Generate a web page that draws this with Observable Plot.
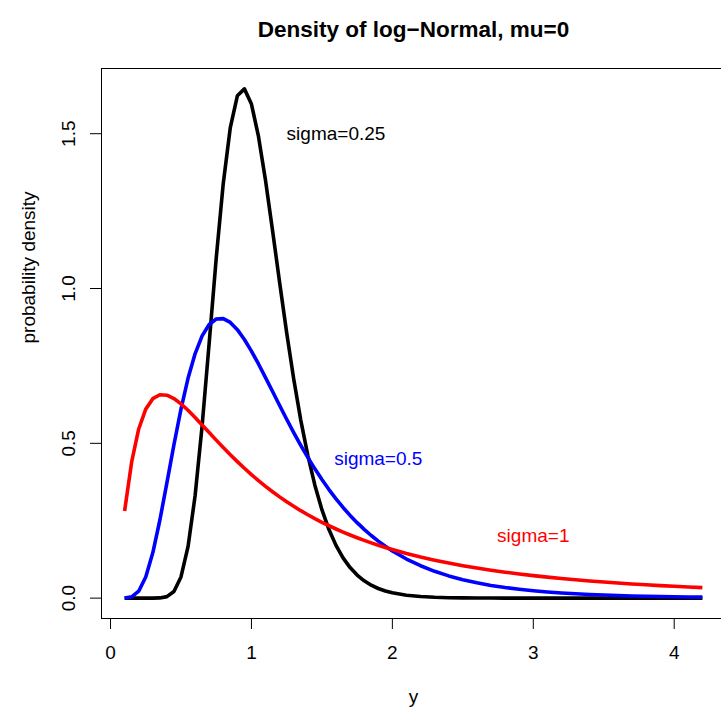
<!DOCTYPE html>
<html>
<head>
<meta charset="utf-8">
<script src="https://cdn.jsdelivr.net/npm/d3@7"></script>
<script src="https://cdn.jsdelivr.net/npm/@observablehq/plot@0.6"></script>
<style>
  html, body { margin: 0; padding: 0; background: #fff; overflow: hidden; }
</style>
</head>
<body>
<div id="chart"></div>
<script>
// x grid (y values of the density)
const xValues = [
  0.10, 0.15, 0.20, 0.25, 0.30, 0.35, 0.40, 0.45, 0.50, 0.55, 0.60, 0.65, 0.70, 0.75, 0.80, 0.85, 0.90, 0.95, 1.00,
  1.05, 1.10, 1.15, 1.20, 1.25, 1.30, 1.35, 1.40, 1.45, 1.50, 1.55, 1.60, 1.65, 1.70, 1.75, 1.80, 1.85, 1.90, 1.95, 2.00,
  2.1, 2.2, 2.3, 2.4, 2.5, 2.6, 2.7, 2.8, 2.9, 3.0, 3.1, 3.2, 3.3, 3.4, 3.5, 3.6, 3.7, 3.8, 3.9, 4.0, 4.1, 4.2
];
// sigma = 0.25 (black)
const densSigma025 = [
  0, 0, 0, 0, 0.00005, 0.00068, 0.00483, 0.02164, 0.06835, 0.16628, 0.32977, 0.55630, 0.82390, 1.09741, 1.33931, 1.51980, 1.62241, 1.64477, 1.59577,
  1.49112, 1.34901, 1.18689, 1.01929, 0.85715, 0.70773, 0.57508, 0.46079, 0.36470, 0.28555, 0.22148, 0.17035, 0.13008, 0.09869, 0.07445, 0.05589, 0.04178, 0.03111, 0.02309, 0.01709,
  0.00929, 0.00502, 0.00270, 0.00144, 0.00077, 0.00041, 0.00022, 0.00012, 0.00006, 0.00003, 0.00002, 0.00001, 0, 0, 0, 0, 0, 0, 0, 0, 0, 0
];
// sigma = 0.5 (blue)
const densSigma05 = [
  0.0002, 0.00397, 0.02246, 0.06835, 0.14647, 0.25152, 0.37207, 0.49534, 0.61045, 0.70980, 0.78911, 0.84691, 0.88378, 0.90156, 0.90282, 0.89039, 0.86707, 0.83547, 0.79788,
  0.75628, 0.71229, 0.66723, 0.62214, 0.57781, 0.53482, 0.49360, 0.45444, 0.41750, 0.38287, 0.35058, 0.32059, 0.29284, 0.26725, 0.24372, 0.22211, 0.20232, 0.18422, 0.16770, 0.15261,
  0.12635, 0.10460, 0.08662, 0.07178, 0.05953, 0.04943, 0.04108, 0.03420, 0.02850, 0.02379, 0.01989, 0.01666, 0.01397, 0.01174, 0.00988, 0.00833, 0.00703, 0.00594, 0.00504, 0.00427, 0.00363, 0.00309
];
// sigma = 1 (red)
const densSigma1 = [
  0.28156, 0.43984, 0.54630, 0.61045, 0.64422, 0.65691, 0.65547, 0.64454, 0.62749, 0.60665, 0.58357, 0.55937, 0.53479, 0.51036, 0.48642, 0.46319, 0.44082, 0.41939, 0.39894,
  0.37949, 0.36103, 0.34353, 0.32697, 0.31131, 0.29650, 0.28250, 0.26928, 0.25678, 0.24497, 0.23381, 0.22327, 0.21329, 0.20385, 0.19493, 0.18647, 0.17847, 0.17088, 0.16369, 0.15687,
  0.14426, 0.13289, 0.12261, 0.11331, 0.10487, 0.09721, 0.09023, 0.08386, 0.07805, 0.07273, 0.06786, 0.06339, 0.05928, 0.05549, 0.05201, 0.04879, 0.04582, 0.04307, 0.04052, 0.03815, 0.03596, 0.03392
];

const seriesNames = ["sigma=0.25", "sigma=0.5", "sigma=1"];
const seriesColors = ["black", "blue", "red"];
const labelX = [1.6, 1.9, 3];
const labelY = [1.5, 0.45, 0.2];
const xTicks = [0, 1, 2, 3, 4];
const yTicks = [0, 0.5, 1, 1.5];
const titleText = "Density of log\u2212Normal, mu=0";
const xLabel = "y";
const yLabel = "probability density";

const allSeries = [densSigma025, densSigma05, densSigma1];
const rows = [];
allSeries.forEach((arr, s) => arr.forEach((v, i) => rows.push({x: xValues[i], y: v, series: seriesNames[s]})));
const labels = seriesNames.map((n, i) => ({x: labelX[i], y: labelY[i], text: n, series: n}));

// R-style 4% padding of the data range
const xmin = d3.min(xValues), xmax = d3.max(xValues);
const ymin = d3.min(allSeries.flat()), ymax = d3.max(allSeries.flat());
const px = (xmax - xmin) * 0.04, py = (ymax - ymin) * 0.04;

const font = "'Liberation Sans', Arial, Helvetica, sans-serif";

const chart = Plot.plot({
  width: 721,
  height: 718,
  marginLeft: 101,
  marginRight: -4,
  marginTop: 68,
  marginBottom: 100,
  style: {fontFamily: font, fontSize: "19px", background: "white", color: "black"},
  x: {domain: [xmin - px, xmax + px]},
  y: {domain: [ymin - py, ymax + py]},
  color: {domain: seriesNames, range: seriesColors},
  marks: [
    Plot.frame({stroke: "black", strokeWidth: 1}),
    Plot.axisX({ticks: xTicks, tickSize: 11, tickPadding: 16, fontSize: 19, label: null, tickFormat: d => String(d)}),
    Plot.axisY({ticks: yTicks, tickSize: 11, tickPadding: 16, tickRotate: -90, fontSize: 19, label: null, tickFormat: d => d.toFixed(1)}),
    Plot.line(rows, {x: "x", y: "y", z: "series", stroke: "series", strokeWidth: 3.6, strokeLinejoin: "round", strokeLinecap: "butt"}),
    Plot.text(labels, {x: "x", y: "y", text: "text", fill: "series", fontSize: 19}),
    Plot.text([titleText], {frameAnchor: "top", dy: -47, fontSize: 22.5, fontWeight: "bold", fill: "black"}),
    Plot.text([xLabel], {frameAnchor: "bottom", dy: 84, fontSize: 19, fill: "black"}),
    Plot.text([yLabel], {frameAnchor: "left", dx: -73, rotate: -90, fontSize: 19, fill: "black"})
  ]
});
document.getElementById("chart").appendChild(chart);
</script>
</body>
</html>
